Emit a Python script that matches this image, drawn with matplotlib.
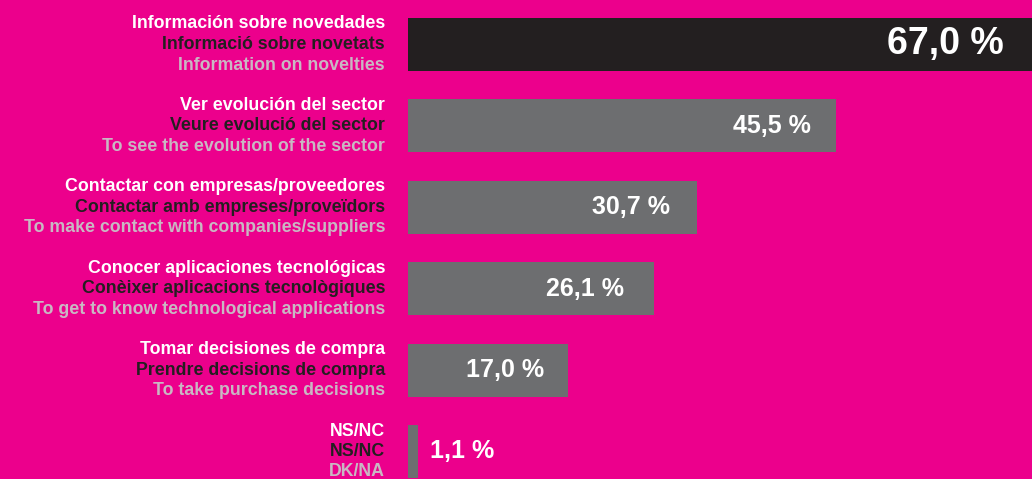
import matplotlib
matplotlib.use("Agg")
import matplotlib.pyplot as plt

# one entry per bar, top to bottom
labels_es = ["Información sobre novedades", "Ver evolución del sector",
             "Contactar con empresas/proveedores", "Conocer aplicaciones tecnológicas",
             "Tomar decisiones de compra", "NS/NC"]
labels_ca = ["Informació sobre novetats", "Veure evolució del sector",
             "Contactar amb empreses/proveïdors", "Conèixer aplicacions tecnològiques",
             "Prendre decisions de compra", "NS/NC"]
labels_en = ["Information on novelties", "To see the evolution of the sector",
             "To make contact with companies/suppliers", "To get to know technological applications",
             "To take purchase decisions", "DK/NA"]
values = [67.0, 45.5, 30.7, 26.1, 17.0, 1.1]

MAGENTA = "#EC008C"
DARK = "#231F20"
GREY = "#6D6E70"
LIGHT = "#C9B8C3"

plt.rcParams['font.family'] = ['Liberation Sans', 'DejaVu Sans']

W, H = 1032, 479
fig = plt.figure(figsize=(W / 100, H / 100), dpi=100, facecolor=MAGENTA)
ax = fig.add_axes([408 / W, 0, (W - 408) / W, 1])
ax.set_facecolor(MAGENTA)

px_per_unit = 9.41
step = 81.4
ax.set_xlim(0, (W - 408) / px_per_unit)
ax.set_ylim((H - 44.5) / step, -44.5 / step)

ypos = list(range(len(values)))
colors = [DARK] + [GREY] * (len(values) - 1)
ax.barh(ypos, values, height=0.65, color=colors)

for s in ax.spines.values():
    s.set_visible(False)
ax.set_xticks([])
ax.set_yticks([])

# three-language labels to the left of the bars
for y, es, ca, en in zip(ypos, labels_es, labels_ca, labels_en):
    for txt, col, dy in ((es, "white", 20.5), (ca, DARK, 0), (en, LIGHT, -20.5)):
        ax.annotate(txt, xy=(-23 / 624, y), xycoords=ax.get_yaxis_transform(),
                    xytext=(0, dy), textcoords="offset pixels",
                    ha="right", va="center", color=col, fontsize=12.8, fontweight="bold",
                    annotation_clip=False)

# value labels
offsets = [-35, -25, -27, -30, -24]
for i, v in enumerate(values):
    txt = f"{v:.1f} %".replace(".", ",")
    if i == 0:
        ax.annotate(txt, xy=(v, i), xytext=(offsets[i], 0), textcoords="offset pixels",
                    ha="right", va="center", color="white", fontsize=27, fontweight="bold",
                    annotation_clip=False)
    elif v > 5:
        ax.annotate(txt, xy=(v, i), xytext=(offsets[i], 0), textcoords="offset pixels",
                    ha="right", va="center", color="white", fontsize=18, fontweight="bold")
    else:
        ax.annotate(txt, xy=(v, i), xytext=(12, 0), textcoords="offset pixels",
                    ha="left", va="center", color="white", fontsize=18, fontweight="bold")

fig.savefig("out.png", dpi=100, facecolor=MAGENTA)
